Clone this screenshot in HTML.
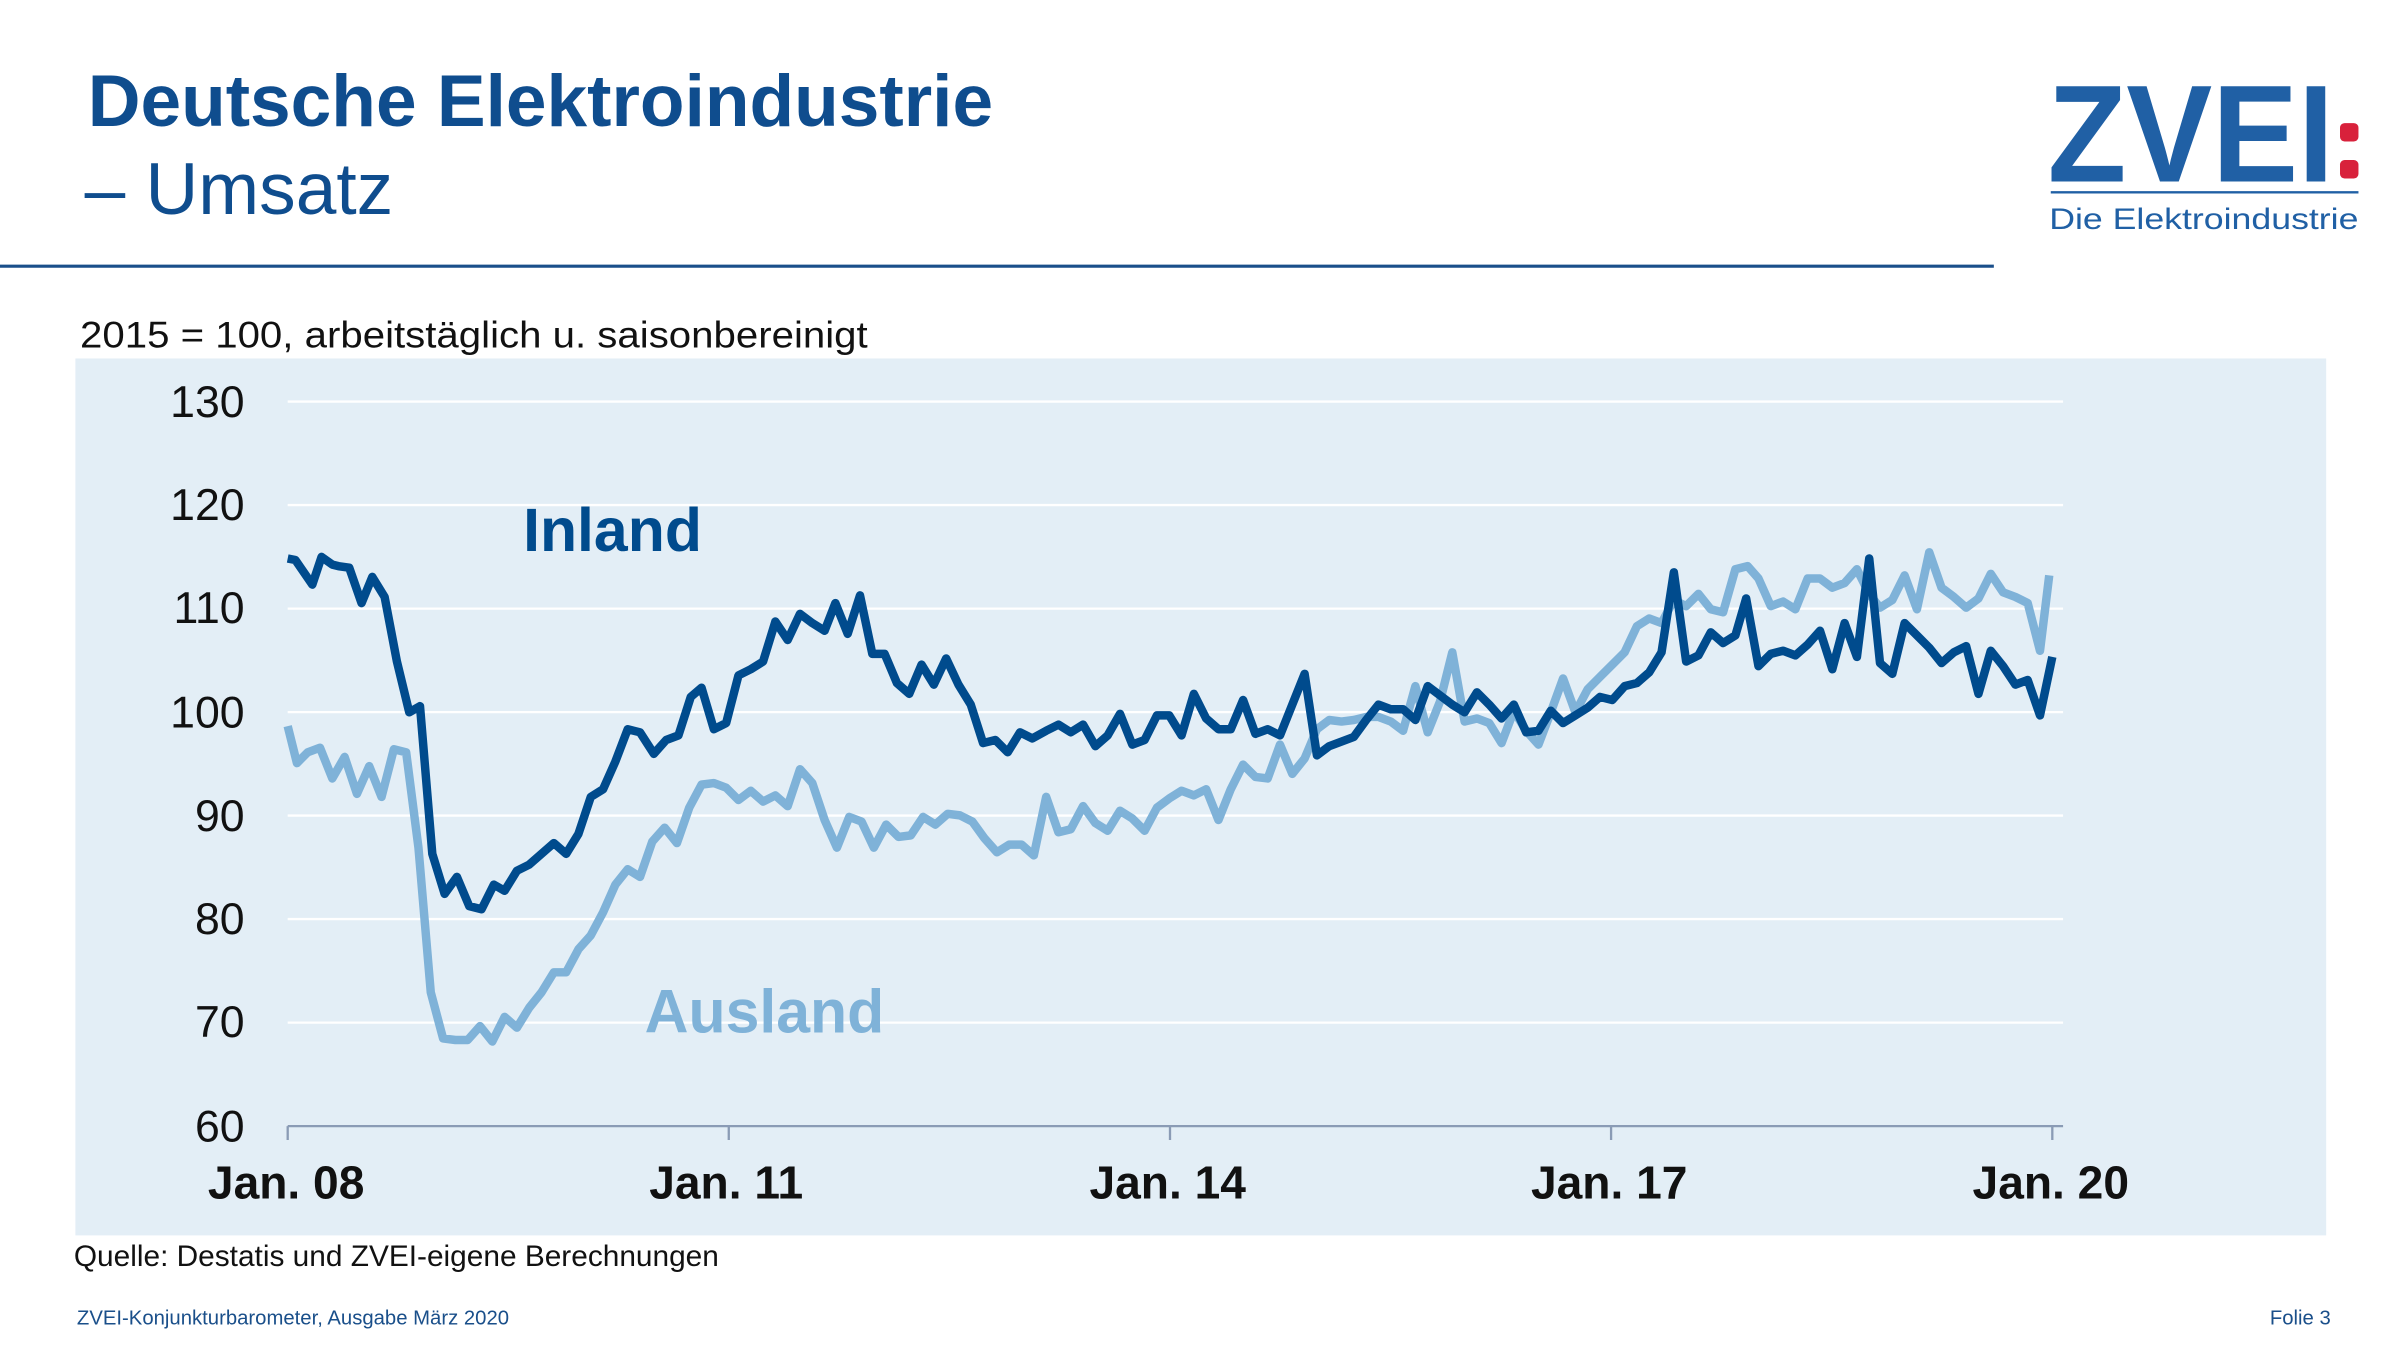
<!DOCTYPE html>
<html><head><meta charset="utf-8"><style>
html,body{margin:0;padding:0;background:#fff;}
svg{display:block;}
text{font-family:"Liberation Sans",Arial,sans-serif;}
</style></head><body>
<svg width="2400" height="1350" viewBox="0 0 1560 877.5" xmlns="http://www.w3.org/2000/svg">
<rect width="1560" height="877.5" fill="#fff"/>
<text x="57" y="82" font-size="47.5" font-weight="bold" fill="#0f4d8e">Deutsche Elektroindustrie</text>
<text x="55" y="139" font-size="47.5" fill="#0f4d8e">– Umsatz</text>
<line x1="0" y1="173" x2="1296" y2="173" stroke="#1a4f8a" stroke-width="2"/>
<!-- logo -->
<text x="1331" y="118" font-size="90" font-weight="bold" fill="#2060a5" textLength="186" lengthAdjust="spacingAndGlyphs">ZVEI</text>
<rect x="1521" y="80" width="12" height="12" rx="3" fill="#d8213b"/>
<rect x="1521" y="104" width="12" height="12" rx="3" fill="#d8213b"/>
<line x1="1333" y1="125" x2="1533" y2="125" stroke="#2060a5" stroke-width="1.5"/>
<text x="1332" y="149" font-size="19" fill="#2060a5" textLength="201" lengthAdjust="spacingAndGlyphs">Die Elektroindustrie</text>

<text x="52" y="226" font-size="24" fill="#111" textLength="512" lengthAdjust="spacingAndGlyphs">2015 = 100, arbeitstäglich u. saisonbereinigt</text>
<rect x="49" y="233" width="1463" height="570" fill="#e3eef6"/>
<g stroke="#fff" stroke-width="1.5">
<line x1="187" y1="261" x2="1341" y2="261"/>
<line x1="187" y1="328.3" x2="1341" y2="328.3"/>
<line x1="187" y1="395.6" x2="1341" y2="395.6"/>
<line x1="187" y1="462.9" x2="1341" y2="462.9"/>
<line x1="187" y1="530.1" x2="1341" y2="530.1"/>
<line x1="187" y1="597.4" x2="1341" y2="597.4"/>
<line x1="187" y1="664.7" x2="1341" y2="664.7"/>
</g>
<g stroke="#8a9bb5" stroke-width="1.5">
<line x1="187" y1="732" x2="1341" y2="732"/>
<line x1="187" y1="732" x2="187" y2="741"/>
<line x1="473.7" y1="732" x2="473.7" y2="741"/>
<line x1="760.5" y1="732" x2="760.5" y2="741"/>
<line x1="1047.2" y1="732" x2="1047.2" y2="741"/>
<line x1="1334" y1="732" x2="1334" y2="741"/>
</g>
<g font-size="29" fill="#111" text-anchor="end">
<text x="159" y="271">130</text><text x="159" y="338">120</text><text x="159" y="405">110</text>
<text x="159" y="473">100</text><text x="159" y="540">90</text><text x="159" y="607">80</text>
<text x="159" y="674">70</text><text x="159" y="742">60</text>
</g>
<g font-size="30" font-weight="bold" fill="#111" text-anchor="middle">
<text x="186" y="779">Jan. 08</text><text x="472" y="779">Jan. 11</text><text x="759" y="779">Jan. 14</text>
<text x="1046" y="779">Jan. 17</text><text x="1333" y="779">Jan. 20</text>
</g>
<polyline fill="none" stroke="#7fb2d8" stroke-width="5.5" stroke-linejoin="round" points="187,472 193,496 200,489 208,486 216,506 224,492 232,516 240,498 248,518 256,487 264,489 272,551 280,645 288,675 296,676 304,676 312,667 320,677 328,661 336,668 344,655 352,645 360,632 368,632 376,617 384,608 392,593 400,575 408,565 416,570 424,547 432,538 440,548 448,525 456,510 464,509 472,512 480,520 488,514 496,521 504,517 512,524 520,500 528,509 536,533 544,551 552,531 560,534 568,551 576,536 584,544 592,543 600,531 608,536 616,529 624,530 632,534 640,545 648,554 656,549 664,549 672,556 680,518 688,541 696,539 704,524 712,535 720,540 728,527 736,532 744,540 752,525 760,519 768,514 776,517 784,513 792,533 800,513 808,497 816,505 824,506 832,484 840,503 848,493 856,474 864,468 872,469 880,468 888,466 896,466 904,469 912,475 920,446 928,476 936,456 944,424 952,469 960,467 968,470 976,483 984,462 992,475 1000,484 1008,463 1016,441 1024,463 1032,448 1040,440 1048,432 1056,424 1064,407 1072,402 1080,405 1088,390 1096,394 1104,386 1112,396 1120,398 1128,370 1136,368 1143,376 1151,394 1159,391 1167,396 1175,376 1183,376 1191,382 1199,379 1207,370 1215,386 1222,395 1230,390 1238,374 1246,396 1254,359 1262,382 1270,388 1278,395 1286,389 1294,373 1302,385 1310,388 1318,392 1326,423 1332,374"/>
<polyline fill="none" stroke="#004b8d" stroke-width="5.5" stroke-linejoin="round" points="187,363 192,364 203,380 209,362 216,367 220,368 227,369 235,392 242,375 250,388 258,430 266,463 273,459 281,555 289,581 297,570 305,589 313,591 321,575 328,579 336,566 344,562 352,555 360,548 368,555 376,542 384,518 392,513 400,495 408,474 416,476 425,490 433,481 441,478 449,453 456,447 464,474 472,470 480,439 488,435 496,430 504,404 512,416 520,399 528,405 536,410 543,392 551,412 559,387 567,425 575,425 583,444 591,451 599,432 607,445 615,428 623,445 631,458 639,483 647,481 655,489 663,476 671,480 680,475 688,471 696,476 704,471 712,485 720,478 728,464 736,484 744,481 752,465 760,465 768,478 776,451 784,467 792,474 800,474 808,455 816,477 824,474 832,478 840,458 848,438 856,491 864,485 872,482 880,479 888,468 896,458 904,461 912,461 920,468 928,446 936,452 944,458 952,463 960,450 968,458 976,467 984,458 992,476 1000,475 1008,462 1016,470 1024,465 1032,460 1040,453 1048,455 1056,446 1064,444 1072,437 1080,424 1088,372 1096,430 1104,426 1112,411 1120,418 1128,413 1135,389 1143,433 1151,425 1159,423 1167,426 1175,419 1183,410 1191,435 1199,405 1207,427 1215,363 1222,431 1230,438 1238,405 1246,413 1254,421 1262,431 1270,424 1278,420 1286,451 1294,423 1302,433 1310,445 1318,442 1326,465 1334,427"/>
<text x="340" y="358" font-size="39.5" font-weight="bold" fill="#004b8d">Inland</text>
<text x="419" y="671" font-size="39.5" font-weight="bold" fill="#7fb2d8">Ausland</text>
<text x="48" y="823" font-size="19.4" fill="#111">Quelle: Destatis und ZVEI-eigene Berechnungen</text>
<text x="50" y="861" font-size="13.2" fill="#1a4f8a">ZVEI-Konjunkturbarometer, Ausgabe März 2020</text>
<text x="1515" y="861" font-size="13.2" fill="#1a4f8a" text-anchor="end">Folie 3</text>
</svg>
</body></html>
